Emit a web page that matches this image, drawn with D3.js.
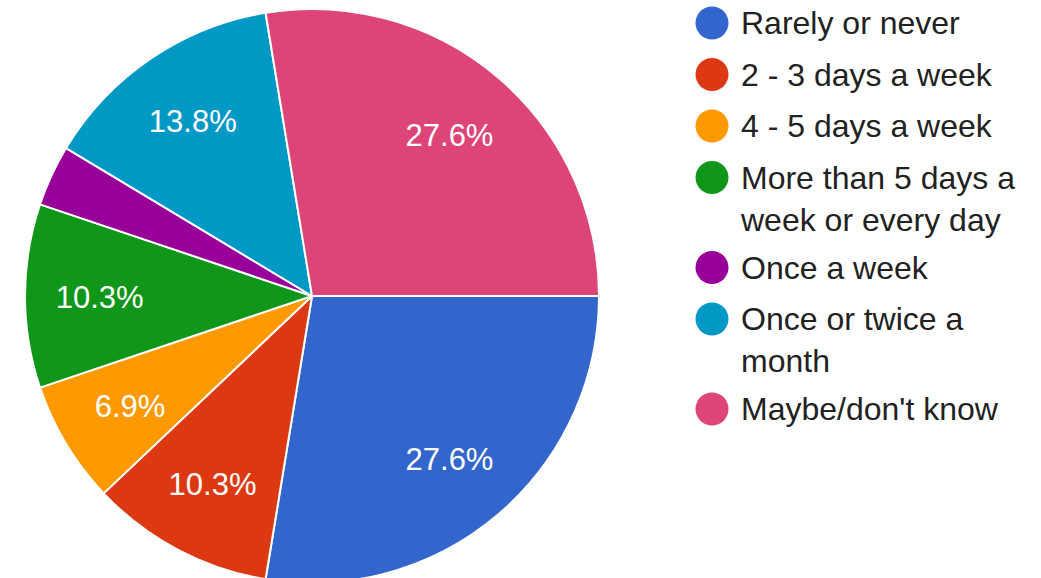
<!DOCTYPE html>
<html>
<head>
<meta charset="utf-8">
<script src="https://cdn.jsdelivr.net/npm/d3@7"></script>
<style>
  html, body { margin: 0; padding: 0; background: #fff; }
  svg { display: block; }
</style>
</head>
<body>
<svg id="chart" width="1041" height="578"></svg>
<script>
// Data (responses counted per answer)
const categories = [
  "Rarely or never",
  "2 - 3 days a week",
  "4 - 5 days a week",
  "More than 5 days a week or every day",
  "Once a week",
  "Once or twice a month",
  "Maybe/don't know"
];
const counts = [8, 3, 2, 3, 1, 4, 8];
const colors = ["#3366cc", "#dc3912", "#ff9900", "#109618", "#990099", "#0099c6", "#dd4477"];

const svg = d3.select("#chart");
const font = "'Liberation Sans', Arial, Helvetica, sans-serif";

const cx = 312, cy = 296, r = 287;
const total = d3.sum(counts);

const pie = d3.pie().sort(null).value(d => d)
  .startAngle(Math.PI / 2).endAngle(Math.PI / 2 + 2 * Math.PI);
const arcs = pie(counts);

const arc = d3.arc().innerRadius(0).outerRadius(r);
const labelArc = d3.arc().innerRadius(r * 0.74).outerRadius(r * 0.74);

const color = d3.scaleOrdinal().domain(categories).range(colors);

const g = svg.append("g").attr("transform", `translate(${cx},${cy})`);

g.selectAll("path.slice")
  .data(arcs)
  .join("path")
  .attr("class", "slice")
  .attr("d", arc)
  .attr("fill", (d, i) => color(categories[i]))
  .attr("stroke", "#fff")
  .attr("stroke-width", 2)
  .attr("stroke-linejoin", "round");

g.selectAll("text.pct")
  .data(arcs.filter(d => d.value / total >= 0.05))
  .join("text")
  .attr("class", "pct")
  .attr("transform", d => `translate(${labelArc.centroid(d)})`)
  .attr("text-anchor", "middle")
  .attr("dy", "0.38em")
  .attr("fill", "#fff")
  .style("font-family", font)
  .style("font-size", "31px")
  .text(d => (d.value / total * 100).toFixed(1) + "%");

// Legend
const legend = svg.append("g").attr("transform", "translate(712,0)");
const rowGap = 51.5, lineGap = 42, wrapStep = 38.5, maxW = 290;
let y = 23;
categories.forEach((cat, i) => {
  const item = legend.append("g");
  item.append("circle")
    .attr("cx", 0).attr("cy", y).attr("r", 16.5)
    .attr("fill", color(cat));
  const text = item.append("text")
    .attr("x", 29)
    .attr("fill", "#222")
    .style("font-family", font)
    .style("font-size", "32px");
  // word wrap
  const words = cat.split(" ");
  let line = [];
  let lines = [];
  const probe = text.append("tspan").attr("x", 29).attr("y", y).attr("dy", "0.35em");
  words.forEach(w => {
    const test = line.concat(w).join(" ");
    probe.text(test);
    if (probe.node().getComputedTextLength() > maxW && line.length) {
      lines.push(line.join(" "));
      line = [w];
    } else {
      line.push(w);
    }
  });
  lines.push(line.join(" "));
  probe.remove();
  lines.forEach((ln, k) => {
    text.append("tspan")
      .attr("x", 29)
      .attr("y", y + k * lineGap)
      .attr("dy", "0.35em")
      .text(ln);
  });
  y += rowGap + (lines.length - 1) * wrapStep;
});
</script>
</body>
</html>
